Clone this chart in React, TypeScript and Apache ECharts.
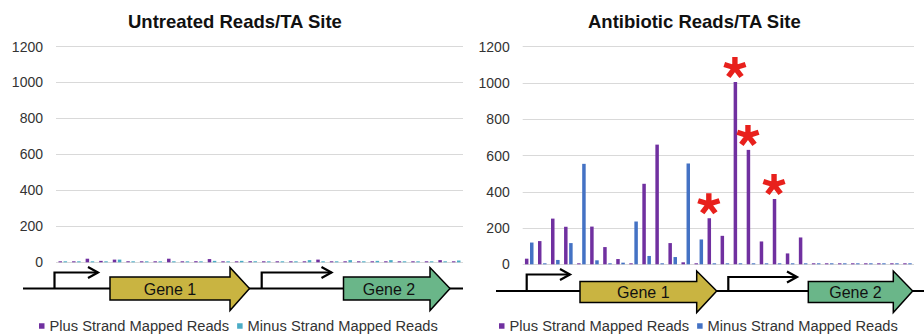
import React, { useEffect, useRef } from 'react';
import * as echarts from 'echarts';

// TA site categories (30 sites along the locus)
const taSites = [
  'TA1', 'TA2', 'TA3', 'TA4', 'TA5', 'TA6', 'TA7', 'TA8', 'TA9', 'TA10',
  'TA11', 'TA12', 'TA13', 'TA14', 'TA15', 'TA16', 'TA17', 'TA18', 'TA19', 'TA20',
  'TA21', 'TA22', 'TA23', 'TA24', 'TA25', 'TA26', 'TA27', 'TA28', 'TA29', 'TA30',
];

const untreatedPlus = [0, 0, 20, 8, 15, 0, 4, 5, 20, 3, 6, 18, 0, 2, 6, 0, 3, 4, 2, 15, 4, 2, 3, 2, 5, 4, 4, 3, 12, 0];
const untreatedMinus = [0, 2, 4, 0, 15, 4, 0, 0, 2, 4, 2, 8, 2, 8, 0, 2, 3, 4, 12, 3, 5, 12, 4, 8, 12, 3, 2, 2, 3, 10];

const antibioticPlus = [31, 128, 252, 207, 0, 208, 95, 29, 0, 444, 660, 117, 11, 0, 254, 157, 1005, 631, 126, 360, 60, 148, 0, 0, 0, 0, 0, 0, 0, 0];
const antibioticMinus = [120, 0, 24, 117, 554, 22, 0, 9, 236, 46, 0, 40, 556, 137, 0, 0, 0, 0, 0, 0, 0, 0, 0, 0, 0, 0, 0, 0, 0, 0];

// indices of significantly enriched sites (red asterisks)
const starredSites = [14, 16, 17, 19];

const yTicks = { min: 0, max: 1200, interval: 200 };

const titles = ['Untreated Reads/TA Site', 'Antibiotic Reads/TA Site'];
const legendLabels: Record<string, string> = {
  u_plus: 'Plus Strand Mapped Reads',
  u_minus: 'Minus Strand Mapped Reads',
  a_plus: 'Plus Strand Mapped Reads',
  a_minus: 'Minus Strand Mapped Reads',
};

const PURPLE = '#7030a0';
const CYAN = '#4bacc6';
const BLUE = '#4472c4';
const RED = '#e8201c';
const FONT = 'Liberation Sans, Arial, sans-serif';

function asteriskPath(): string {
  const R = 10;
  const w = 4.8;
  let d = '';
  for (let k = 0; k < 5; k++) {
    const a = ((-90 + k * 72) * Math.PI) / 180;
    const dx = Math.cos(a);
    const dy = Math.sin(a);
    const px = -dy;
    const py = dx;
    const pts = [
      [-dx * w * 0.5 + px * w * 0.5, -dy * w * 0.5 + py * w * 0.5],
      [dx * R + px * w * 0.5, dy * R + py * w * 0.5],
      [dx * R - px * w * 0.5, dy * R - py * w * 0.5],
      [-dx * w * 0.5 - px * w * 0.5, -dy * w * 0.5 - py * w * 0.5],
    ];
    d += 'M' + pts.map((p) => p[0].toFixed(2) + ' ' + p[1].toFixed(2)).join('L') + 'Z';
  }
  return 'path://' + d;
}

function geneTrack(
  lineX: [number, number],
  y: number,
  promoters: { x: number; top: number; end: number }[],
  genes: { x0: number; x1: number; tip: number; bTop: number; bBot: number; hTop: number; hBot: number; fill: string; label: string; lx: number }[],
) {
  const els: any[] = [];
  els.push({
    type: 'line',
    shape: { x1: lineX[0], y1: y, x2: lineX[1], y2: y },
    style: { stroke: '#000', lineWidth: 2.2 },
    silent: true,
  });
  promoters.forEach((p) => {
    els.push({
      type: 'polyline',
      shape: { points: [[p.x, y], [p.x, p.top], [p.end, p.top]] },
      style: { stroke: '#000', lineWidth: 2.2, fill: null },
      silent: true,
    });
    els.push({
      type: 'polyline',
      shape: { points: [[p.end - 10, p.top - 5.5], [p.end, p.top], [p.end - 10, p.top + 5.5]] },
      style: { stroke: '#000', lineWidth: 2.2, fill: null },
      silent: true,
    });
  });
  genes.forEach((g) => {
    els.push({
      type: 'polygon',
      shape: {
        points: [
          [g.x0, g.bTop], [g.x1, g.bTop], [g.x1, g.hTop], [g.tip, y],
          [g.x1, g.hBot], [g.x1, g.bBot], [g.x0, g.bBot],
        ],
      },
      style: { fill: g.fill, stroke: '#000', lineWidth: 1.5 },
      silent: true,
    });
    els.push({
      type: 'text',
      x: g.lx,
      y: y + 1,
      style: {
        text: g.label,
        fill: '#111',
        font: '16px ' + FONT,
        align: 'center',
        verticalAlign: 'middle',
      },
      silent: true,
    });
  });
  return els;
}

const YELLOW = '#c9b441';
const GREEN = '#6ab689';

export default function App() {
  const ref = useRef<HTMLDivElement>(null);

  useEffect(() => {
    if (!ref.current) return;
    const chart = echarts.init(ref.current, undefined, { renderer: 'svg' });

    const yAxisBase = {
      type: 'value' as const,
      min: yTicks.min,
      max: yTicks.max,
      interval: yTicks.interval,
      axisLabel: {
        fontSize: 14,
        color: '#333',
        margin: 13,
        fontFamily: FONT,
        formatter: (v: number) => String(v),
      },
      splitLine: { lineStyle: { color: '#d9d9d9', width: 1 } },
      axisLine: { show: false },
      axisTick: { show: false },
    };
    const xAxisBase = {
      type: 'category' as const,
      data: taSites,
      axisLabel: { show: false },
      axisTick: { show: false },
      axisLine: { show: false },
    };
    const barBase = {
      type: 'bar' as const,
      barWidth: 3.5,
      barGap: '45%',
      barMinHeight: 1,
      silent: true,
    };

    const leftTrack = geneTrack(
      [23, 463],
      288.5,
      [
        { x: 54.5, top: 272.5, end: 98 },
        { x: 261.7, top: 272.5, end: 331.5 },
      ],
      [
        { x0: 110, x1: 230, tip: 249.5, bTop: 277, bBot: 300, hTop: 267.5, hBot: 310.5, fill: YELLOW, label: 'Gene 1', lx: 170 },
        { x0: 343.5, x1: 430, tip: 450, bTop: 277, bBot: 300, hTop: 267.5, hBot: 310.5, fill: GREEN, label: 'Gene 2', lx: 389 },
      ],
    );
    const rightTrack = geneTrack(
      [496, 924],
      291,
      [
        { x: 526.7, top: 274.5, end: 570 },
        { x: 728.3, top: 277, end: 797 },
      ],
      [
        { x0: 580, x1: 696.7, tip: 716.7, bTop: 281.5, bBot: 302.5, hTop: 271, hBot: 312.5, fill: YELLOW, label: 'Gene 1', lx: 643.3 },
        { x0: 808.3, x1: 893.3, tip: 912.7, bTop: 281.5, bBot: 302.5, hTop: 271, hBot: 312.5, fill: GREEN, label: 'Gene 2', lx: 855.5 },
      ],
    );

    const legendBase = {
      icon: 'rect',
      itemWidth: 5.5,
      itemHeight: 5.5,
      itemGap: 8,
      padding: 0,
      selectedMode: false as const,
      formatter: (n: string) => legendLabels[n],
      textStyle: { fontSize: 14.7, color: '#333', fontFamily: FONT, lineHeight: 16 },
    };

    chart.setOption({
      animation: false,
      backgroundColor: '#ffffff',
      textStyle: { fontFamily: FONT },
      title: [
        {
          text: titles[0],
          left: 128,
          top: 11,
          padding: 0,
          textStyle: { fontSize: 18.5, fontWeight: 'bold', color: '#111', fontFamily: FONT, lineHeight: 20 },
        },
        {
          text: titles[1],
          left: 588,
          top: 11,
          padding: 0,
          textStyle: { fontSize: 18.5, fontWeight: 'bold', color: '#111', fontFamily: FONT, lineHeight: 20 },
        },
      ],
      legend: [
        { ...legendBase, data: ['u_plus', 'u_minus'], left: 39, top: 318 },
        { ...legendBase, data: ['a_plus', 'a_minus'], left: 499, top: 318 },
      ],
      grid: [
        { left: 56, right: 461, top: 46.5, bottom: 72.7 },
        { left: 522.7, right: 10, top: 46.7, bottom: 70.7 },
      ],
      xAxis: [
        { ...xAxisBase, gridIndex: 0 },
        { ...xAxisBase, gridIndex: 1 },
      ],
      yAxis: [
        { ...yAxisBase, gridIndex: 0 },
        { ...yAxisBase, gridIndex: 1 },
      ],
      series: [
        { ...barBase, name: 'u_plus', xAxisIndex: 0, yAxisIndex: 0, data: untreatedPlus, itemStyle: { color: PURPLE } },
        { ...barBase, name: 'u_minus', xAxisIndex: 0, yAxisIndex: 0, data: untreatedMinus, itemStyle: { color: CYAN } },
        { ...barBase, name: 'a_plus', xAxisIndex: 1, yAxisIndex: 1, data: antibioticPlus, itemStyle: { color: PURPLE } },
        { ...barBase, name: 'a_minus', xAxisIndex: 1, yAxisIndex: 1, data: antibioticMinus, itemStyle: { color: BLUE } },
        {
          type: 'scatter',
          name: 'significant',
          xAxisIndex: 1,
          yAxisIndex: 1,
          data: starredSites.map((i) => [i, antibioticPlus[i]]),
          symbol: asteriskPath(),
          symbolSize: [23, 21],
          symbolOffset: [-3, -14.5],
          itemStyle: { color: RED, opacity: 1 },
          silent: true,
          z: 5,
        },
      ],
      graphic: [...leftTrack, ...rightTrack],
    });

    return () => {
      chart.dispose();
    };
  }, []);

  return (
    <div
      ref={ref}
      style={{ position: 'fixed', left: 0, top: 0, width: 924, height: 335, background: '#fff' }}
    />
  );
}
